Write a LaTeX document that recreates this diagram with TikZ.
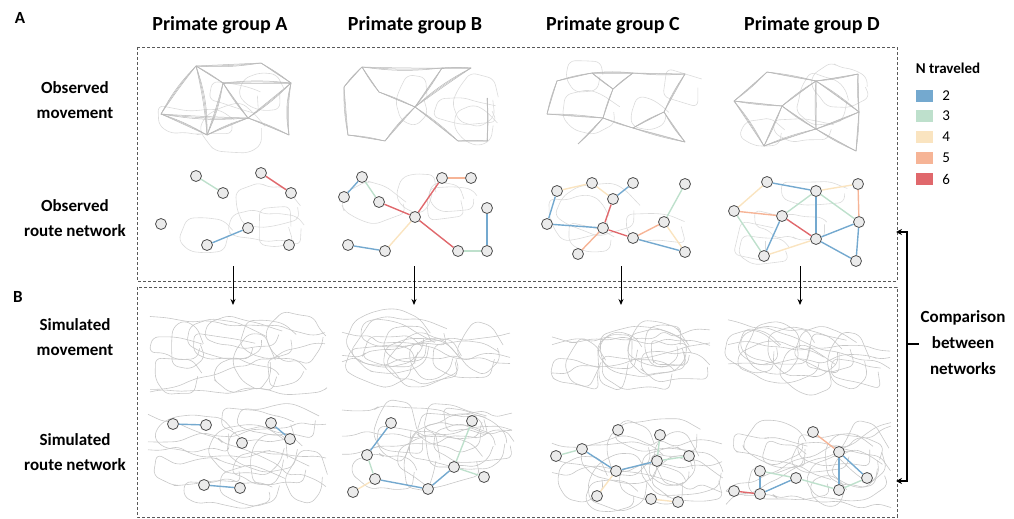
\documentclass[tikz,border=0pt]{standalone}
\usepackage{fontspec}
\setmainfont{Carlito}
\usetikzlibrary{arrows.meta,positioning,decorations.pathmorphing}
\definecolor{col2}{RGB}{116,169,207}
\definecolor{col3}{RGB}{190,224,204}
\definecolor{col4}{RGB}{250,228,192}
\definecolor{col5}{RGB}{246,180,150}
\definecolor{col6}{RGB}{224,104,108}
\begin{document}
\begin{tikzpicture}[x=1pt, y=-1pt,
   site/.style={draw=black!70, circle, fill=black!8, line width=0.8pt, minimum size=11pt, inner sep=0pt},
   trav/.style={draw=col#1, line width=1.4pt},
   mtrail/.style={draw=black!28, line width=0.5pt},
   wig/.style={draw=black!22, line width=0.6pt, decorate,
       decoration={random steps, segment length=14pt, amplitude=5pt}, rounded corners=6pt},
   panel/.style={draw=black!65, dash pattern=on 3pt off 2pt, line width=0.7pt},
   title/.style={font=\fontsize{20}{24}\selectfont\bfseries},
   rowlab/.style={font=\fontsize{17}{25}\selectfont\bfseries, align=center},
   legnum/.style={font=\fontsize{15}{18}\selectfont, inner sep=0pt},
   flow/.style={-{Stealth[length=6pt,width=5pt]}, line width=0.9pt},
   bracket/.style={{Stealth[length=6pt,width=6pt]}-{Stealth[length=6pt,width=6pt]}, line width=1.8pt}]

\useasboundingbox (0,0) rectangle (1014,519);

% headings
\node[font=\fontsize{17}{20}\selectfont\bfseries] (pa) at (20,18) {A};
\node[font=\fontsize{17}{20}\selectfont\bfseries] (pb) at (18,297) {B};
\node[title] (ga) at (220,25) {Primate group A};
\node[title] (gb) at (415,25) {Primate group B};
\node[title] (gc) at (613,25) {Primate group C};
\node[title] (gd) at (812,25) {Primate group D};
\node[rowlab] (obsmov) at (75,100) {Observed\\movement};
\node[rowlab] (obsnet) at (75,218) {Observed\\route network};
\node[rowlab] (simmov) at (75,337) {Simulated\\movement};
\node[rowlab] (simnet) at (75,452) {Simulated\\route network};

\draw[panel] (137,47) rectangle (897,281);
\draw[panel] (137,287) rectangle (897,517);

% simulated trails
\pgfmathsetseed{42}
\foreach \px/\py/\w/\h in {150/312/175/80, 342/310/168/85, 552/322/158/68, 728/318/162/72,
                           148/405/178/100, 342/405/170/100, 552/420/170/92, 726/420/165/88}{
  \foreach \k in {1,...,11}{
    \pgfmathsetmacro\rx{12+30*rnd}
    \pgfmathsetmacro\ry{8+18*rnd}
    \pgfmathsetmacro\cx{\px+\rx+(\w-2*\rx)*rnd}
    \pgfmathsetmacro\cy{\py+\ry+(\h-2*\ry)*rnd}
    \draw[wig] (\cx,\cy) ellipse[x radius=\rx, y radius=\ry];
  }
  \foreach \k in {1,...,3}{
    \pgfmathsetmacro\ya{\py+\h*rnd}
    \pgfmathsetmacro\yb{\py+\h*rnd}
    \draw[wig] (\px,\ya) -- (\px+\w,\yb);
  }
}
% faint trails behind the observed networks and movements
\foreach \px/\py/\w/\h in {152/170/150/85, 338/172/160/85, 545/178/150/80, 730/178/135/85,
                           152/58/150/95, 335/58/165/95, 540/62/160/80, 728/62/148/95}{
  \foreach \k in {1,...,4}{
    \pgfmathsetmacro\rx{12+25*rnd}
    \pgfmathsetmacro\ry{8+15*rnd}
    \pgfmathsetmacro\cx{\px+\rx+(\w-2*\rx)*rnd}
    \pgfmathsetmacro\cy{\py+\ry+(\h-2*\ry)*rnd}
    \draw[wig, draw=black!14] (\cx,\cy) ellipse[x radius=\rx, y radius=\ry];
  }
}

% observed sites
\foreach \n/\x/\y in {a1/196/176, a2/223/193, a3/261/173, a4/291/193, a5/161/224, a6/248/228, a7/207/245, a8/289/245,
   b1/362/177, b2/344/197, b3/379/202, b4/415/217, b5/442/178, b6/471/178, b7/487/208, b8/348/245, b9/385/251, b10/458/251, b11/487/251,
   c1/557/191, c2/592/183, c3/633/183, c4/613/199, c5/685/184, c6/547/224, c7/603/228, c8/633/238, c9/664/222, c10/578/254, c11/685/252,
   d1/767/182, d2/816/191, d3/858/184, d4/734/211, d5/782/216, d6/859/222, d7/816/239, d8/764/256, d9/856/261}{
  \node[site] (\n) at (\x,\y) {};
  \coordinate (m\n) at (\x,\y-110);
}
% simulated sites
\foreach \n/\x/\y in {sa1/173/424, sa2/206/425, sa3/271/423, sa4/290/439, sa5/242/443, sa6/204/485, sa7/240/488,
   sb1/391/423, sb2/472/421, sb3/367/455, sb4/454/467, sb5/484/477, sb6/375/479, sb7/353/492, sb8/428/489,
   sc1/618/430, sc2/660/435, sc3/582/449, sc4/556/456, sc5/689/456, sc6/657/461, sc7/616/471, sc8/597/496, sc9/651/499, sc10/678/502,
   sd1/813/432, sd2/839/452, sd3/867/478, sd4/760/471, sd5/796/478, sd6/839/490, sd7/734/491, sd8/760/494}
  \node[site] (\n) at (\x,\y) {};

% observed movement bundles
\foreach \u/\v/\b in {a1/a2/5, a1/a3/-10, a3/a4/4, a2/a4/8, a2/a6/-6, a4/a6/10, a6/a7/-8, a5/a6/-12, a6/a8/6,
   a4/a8/-25, a2/a7/15, a1/a7/20, a5/a7/10, a1/a5/-15,
   b2/b1/8, b1/b3/-6, b3/b4/5, b4/b5/-5, b5/b6/6, b4/b10/6, b4/b9/-8, b8/b9/6, b10/b11/5, b11/b7/-6, b4/b6/12, b2/b8/-10, b1/b5/-12,
   c1/c2/6, c2/c4/-5, c4/c3/6, c1/c6/-6, c6/c7/5, c4/c7/-6, c7/c10/6, c7/c8/-5, c8/c9/6, c8/c11/-5, c9/c5/8, c9/c11/-8, c3/c5/-6, c2/c3/10,
   d1/d2/5, d2/d3/-6, d1/d4/6, d4/d5/-5, d4/d8/8, d5/d2/6, d5/d7/-6, d5/d8/5, d2/d7/-5, d2/d6/6, d3/d6/-6, d6/d7/5, d7/d9/-6, d6/d9/5, d8/d7/6}{
  \foreach \s in {-3,0,3}{
    \pgfmathtruncatemacro\bb{0.4*\b+\s}
    \draw[mtrail] (m\u) to[bend left=\bb] (m\v);
  }
}

% route edges
\foreach \u/\v/\k in {a1/a2/3, a3/a4/6, a7/a6/2,
   b2/b1/2, b1/b3/3, b3/b4/6, b4/b5/6, b5/b6/5, b4/b10/6, b4/b9/4, b8/b9/2, b10/b11/3, b11/b7/2,
   c1/c2/4, c2/c4/4, c4/c3/2, c1/c6/2, c6/c7/2, c4/c7/6, c7/c10/5, c7/c8/6, c8/c9/5, c8/c11/2, c9/c5/3, c9/c11/4,
   d1/d2/2, d2/d3/4, d1/d4/4, d4/d5/5, d4/d8/3, d5/d2/3, d5/d7/6, d5/d8/2, d2/d7/2, d2/d6/3, d3/d6/5, d6/d7/2, d7/d9/2, d6/d9/2, d8/d7/4,
   sa1/sa2/2, sa3/sa4/2, sa6/sa7/2,
   sb1/sb3/2, sb3/sb6/3, sb6/sb7/4, sb6/sb8/2, sb8/sb4/2, sb4/sb2/3, sb4/sb5/3,
   sc4/sc3/3, sc3/sc7/2, sc7/sc6/2, sc6/sc2/3, sc6/sc5/3, sc7/sc8/4, sc9/sc10/4,
   sd1/sd2/5, sd2/sd3/2, sd2/sd6/2, sd6/sd3/3, sd4/sd5/3, sd5/sd6/3, sd4/sd8/2, sd8/sd5/2, sd7/sd8/6}
  \draw[trav=\k] (\u) -- (\v);

% from observed to simulated
\foreach \i/\x in {a/233, b/414, c/621, d/800}{
  \coordinate (up\i) at (\x,266);
  \coordinate (dn\i) at (\x,305);
  \draw[flow] (up\i) -- (dn\i);
}

% legend
\node[font=\fontsize{15}{18}\selectfont\bfseries] (leg) at (948,68) {N traveled};
\foreach \k/\y in {2/96, 3/116, 4/137, 5/158, 6/179}{
  \node[fill=col\k, minimum width=17pt, minimum height=12pt, inner sep=0pt] (sw\k) at (924.5,\y) {};
  \node[legnum, right=9pt of sw\k] (lab\k) {\k};
}

% comparison bracket
\coordinate (ctop) at (896,232);
\coordinate (ktop) at (907,232);
\coordinate (kbot) at (907,481);
\coordinate (cbot) at (896,481);
\coordinate (kmid) at (907,344);
\coordinate (kend) at (919,344);
\draw[bracket] (ctop) -- (ktop) -- (kbot) -- (cbot);
\draw[line width=1.8pt] (kmid) -- (kend);
\node[rowlab, font=\fontsize{17}{26}\selectfont\bfseries] (cmp) at (963,343) {Comparison\\between\\networks};

\end{tikzpicture}
\end{document}
